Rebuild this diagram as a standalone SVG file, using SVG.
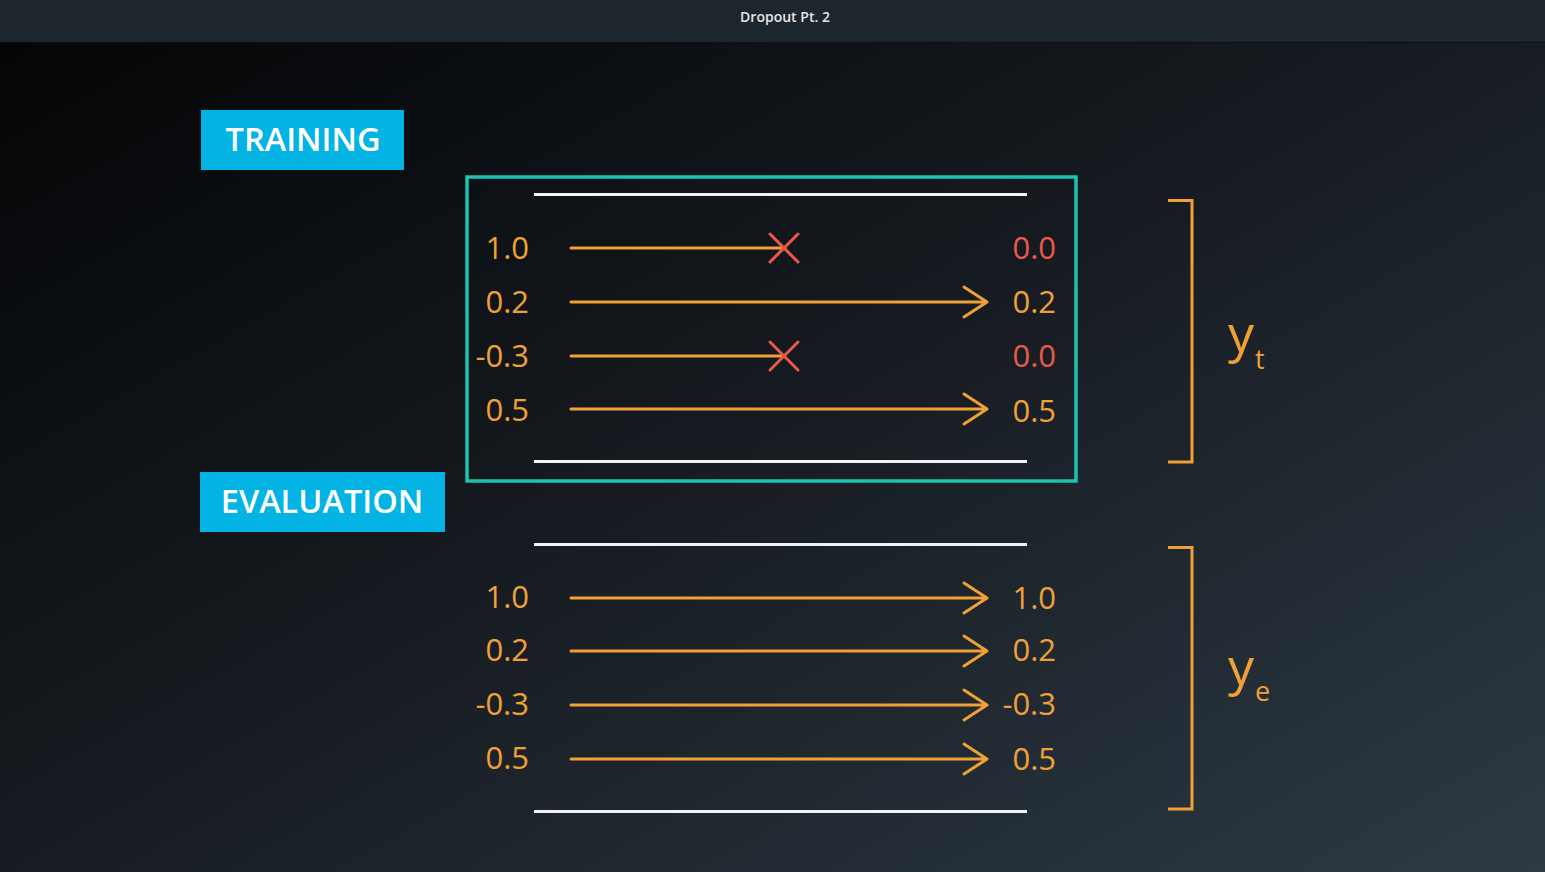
<svg xmlns="http://www.w3.org/2000/svg" width="1545" height="872" viewBox="0 0 1545 872">
<defs>
<linearGradient id="bg" x1="0" y1="0" x2="1" y2="1">
<stop offset="0" stop-color="#030405"/>
<stop offset="0.5" stop-color="#171c22"/>
<stop offset="1" stop-color="#2d3a44"/>
</linearGradient>
<style>
.num{font-family:"Open Sans","Liberation Sans",sans-serif;font-size:31px;fill:#f0a035}
.red{fill:#e85a48}
.wire{stroke:#f0a035;stroke-width:3;fill:none;stroke-linecap:round;stroke-linejoin:round}
.xm{stroke:#e85a48;stroke-width:3;fill:none;stroke-linecap:round}
.rule{stroke:#f2f2f2;stroke-width:3}
.tag{fill:#02b3e4}
.tagt{font-family:"Open Sans","Liberation Sans",sans-serif;font-size:32.5px;font-weight:600;fill:#ffffff;text-anchor:middle}
.br{stroke:#f0a035;stroke-width:3;fill:none}
.sym{font-family:"Open Sans","Liberation Sans",sans-serif;fill:#f0a035}
</style>
</defs>
<rect width="1545" height="872" fill="url(#bg)"/>
<rect width="1545" height="42" fill="#1d252d"/>
<line x1="0" y1="42.5" x2="1545" y2="42.5" stroke="#0c0f12" stroke-width="1"/>
<text x="785" y="22" font-family="'Open Sans','Liberation Sans',sans-serif" font-size="14" font-weight="600" fill="#e6e6e6" text-anchor="middle">Dropout Pt. 2</text>

<g id="training-tag"><rect class="tag" x="201" y="110" width="203" height="60"/><text class="tagt" x="303" y="151">TRAINING</text></g>
<g id="evaluation-tag"><rect class="tag" x="200" y="472" width="245" height="60"/><text class="tagt" x="322" y="513">EVALUATION</text></g>

<g id="training-box"><rect x="467" y="177" width="609" height="304" fill="none" stroke="#1ec2b2" stroke-width="3.5"/></g>

<g id="rules">
<line class="rule" x1="534" y1="194.5" x2="1027" y2="194.5"/>
<line class="rule" x1="534" y1="461.5" x2="1027" y2="461.5"/>
<line class="rule" x1="534" y1="544.5" x2="1027" y2="544.5"/>
<line class="rule" x1="534" y1="811.5" x2="1027" y2="811.5"/>
</g>

<g id="training-inputs" class="num" text-anchor="end">
<text x="529" y="259">1.0</text>
<text x="529" y="313">0.2</text>
<text x="529" y="367">-0.3</text>
<text x="529" y="421">0.5</text>
</g>
<g id="training-outputs" text-anchor="end">
<text class="num red" x="1056" y="259">0.0</text>
<text class="num" x="1056" y="313">0.2</text>
<text class="num red" x="1056" y="367">0.0</text>
<text class="num" x="1056" y="422">0.5</text>
</g>
<g id="eval-inputs" class="num" text-anchor="end">
<text x="529" y="608">1.0</text>
<text x="529" y="661">0.2</text>
<text x="529" y="715">-0.3</text>
<text x="529" y="769">0.5</text>
</g>
<g id="eval-outputs" class="num" text-anchor="end">
<text x="1056" y="609">1.0</text>
<text x="1056" y="661">0.2</text>
<text x="1056" y="715">-0.3</text>
<text x="1056" y="770">0.5</text>
</g>

<g id="connectors">
<line class="wire" x1="571" y1="248" x2="784" y2="248"/>
<path class="xm" d="M770 234 L798 262 M798 234 L770 262"/>
<path class="wire" d="M571 302 H987 M964 287 L987 302 L964 317"/>
<line class="wire" x1="571" y1="356" x2="784" y2="356"/>
<path class="xm" d="M770 342 L798 370 M798 342 L770 370"/>
<path class="wire" d="M571 409 H987 M964 394 L987 409 L964 424"/>
<path class="wire" d="M571 598 H987 M964 583 L987 598 L964 613"/>
<path class="wire" d="M571 651 H987 M964 636 L987 651 L964 666"/>
<path class="wire" d="M571 705 H987 M964 690 L987 705 L964 720"/>
<path class="wire" d="M571 759 H987 M964 744 L987 759 L964 774"/>
</g>

<g id="bracket-train"><path class="br" d="M1168 200.5 H1192 V462 H1168"/><text class="sym" x="1228" y="352" font-size="52">y</text><text class="sym" x="1255" y="369" font-size="27">t</text></g>
<g id="bracket-eval"><path class="br" d="M1168 547.5 H1192 V809 H1168"/><text class="sym" x="1228" y="685" font-size="52">y</text><text class="sym" x="1255" y="701" font-size="27">e</text></g>
</svg>
